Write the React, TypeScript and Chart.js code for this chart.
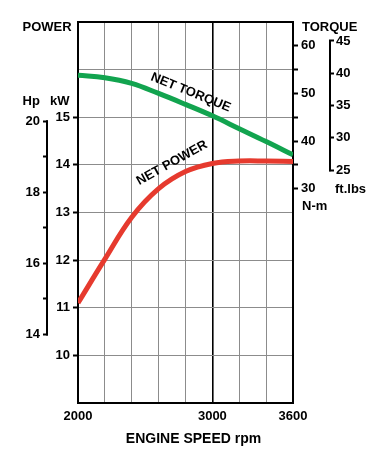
import { useEffect, useRef } from 'react';
import { Chart, registerables } from 'chart.js';

Chart.register(...registerables);

// ---- data ----
const rpm = [2000, 2200, 2400, 2600, 2800, 3000, 3200, 3400, 3600];
const netPowerKw = [11.1, 12.02, 12.9, 13.5, 13.86, 14.03, 14.08, 14.08, 14.07];
const netTorqueNm = [53.8, 53.3, 52.1, 50.0, 47.7, 45.3, 42.6, 39.9, 37.1];

const xTickLabels = [2000, 3000, 3600];
const kwGrid = [9, 10, 11, 12, 13, 14, 15, 16, 17];
const kwLabels = [10, 11, 12, 13, 14, 15];
const nmTicks = [30, 35, 40, 45, 50, 55, 60];
const nmLabels = [30, 40, 50, 60];
const hpTicks = [14, 15, 16, 17, 18, 19, 20];
const hpLabels = [14, 16, 18, 20];
const ftlbTicks = [25, 30, 35, 40, 45];

const KW_MIN = 9;
const KW_MAX = 17;
const KW_PER_HP = 0.7457;
const NM_PER_FTLB = 1.35582;
// torque axis aligned so that N-m = 10 * kW - 105
const NM_MIN = 10 * KW_MIN - 105;
const NM_MAX = 10 * KW_MAX - 105;

const torqueLabel = { text: 'NET TORQUE', rpm: 2839, kw: 15.52, angle: 22 };
const powerLabel = { text: 'NET POWER', rpm: 2699, kw: 14.04, angle: -29 };

const FONT = "'Liberation Sans', Arial, Helvetica, sans-serif";
const GRID_GREY = '#8c8c8c';
const RED = '#e63a2e';
const GREEN = '#12a44f';

const tickFont = { family: FONT, size: 13, weight: 'bold' as const };

const setTicks = (vals: number[]) => (axis: any) => {
  axis.ticks = vals.map((v) => ({ value: v }));
};
const fixWidth = (w: number) => (axis: any) => {
  axis.width = w;
  axis.paddingTop = 0;
  axis.paddingBottom = 0;
};

const overlayPlugin = {
  id: 'overlay',
  afterDraw(chart: any) {
    const { ctx, scales } = chart;
    const x = scales.x;
    const kw = scales.kw;
    const hp = scales.hp;
    const ft = scales.ft;
    ctx.save();
    ctx.strokeStyle = '#000';
    ctx.lineWidth = 2;
    ctx.lineCap = 'square';
    // Hp bracket
    const hx = hp.right - 1;
    ctx.beginPath();
    ctx.moveTo(hx, hp.getPixelForValue(hpTicks[hpTicks.length - 1]));
    ctx.lineTo(hx, hp.getPixelForValue(hpTicks[0]));
    ctx.stroke();
    // ft.lbs bracket
    const fx = ft.left + 1;
    ctx.beginPath();
    ctx.moveTo(fx, ft.getPixelForValue(ftlbTicks[ftlbTicks.length - 1]));
    ctx.lineTo(fx, ft.getPixelForValue(ftlbTicks[0]));
    ctx.stroke();

    ctx.fillStyle = '#000';
    ctx.textBaseline = 'alphabetic';
    ctx.textAlign = 'left';
    ctx.font = `bold 13px ${FONT}`;
    ctx.fillText('POWER', 22.5, 31);
    ctx.fillText('Hp', 22.5, 105);
    ctx.fillText('kW', 50, 105);
    ctx.fillText('TORQUE', 302, 31);
    ctx.fillText('ft.lbs', 335, 193);
    ctx.fillText('N-m', 302, 210);

    ctx.font = `bold 14px ${FONT}`;
    ctx.textAlign = 'center';
    ctx.fillText('ENGINE SPEED rpm', 193.5, 443);

    ctx.font = `bold 13px ${FONT}`;
    ctx.textBaseline = 'middle';
    for (const l of [torqueLabel, powerLabel]) {
      ctx.save();
      ctx.translate(x.getPixelForValue(l.rpm), kw.getPixelForValue(l.kw));
      ctx.rotate((l.angle * Math.PI) / 180);
      ctx.fillText(l.text, 0, 0);
      ctx.restore();
    }
    ctx.restore();
  },
};

export default function App() {
  const ref = useRef<HTMLCanvasElement | null>(null);

  useEffect(() => {
    if (!ref.current) return;
    const chart = new Chart(ref.current, {
      type: 'line',
      data: {
        datasets: [
          {
            label: 'NET TORQUE',
            data: rpm.map((r, i) => ({ x: r, y: netTorqueNm[i] })),
            yAxisID: 'nm',
            borderColor: GREEN,
            borderWidth: 5,
            pointRadius: 0,
            tension: 0.4,
            fill: false,
          },
          {
            label: 'NET POWER',
            data: rpm.map((r, i) => ({ x: r, y: netPowerKw[i] })),
            yAxisID: 'kw',
            borderColor: RED,
            borderWidth: 5,
            pointRadius: 0,
            tension: 0.4,
            fill: false,
          },
        ],
      },
      options: {
        animation: false,
        responsive: false,
        devicePixelRatio: 1,
        layout: { padding: { top: 22, left: 0, right: 0, bottom: 0 } },
        plugins: { legend: { display: false }, tooltip: { enabled: false } },
        scales: {
          x: {
            type: 'linear',
            min: rpm[0],
            max: rpm[rpm.length - 1],
            afterBuildTicks: setTicks(rpm),
            ticks: {
              font: tickFont,
              color: '#000',
              padding: 6,
              autoSkip: false,
              maxRotation: 0,
              callback: (v: any) => (xTickLabels.includes(Number(v)) ? String(v) : ''),
            },
            grid: {
              drawTicks: false,
              color: (c: any) => {
                const v = c.tick?.value;
                return v === 3000 || v === rpm[0] || v === rpm[rpm.length - 1] ? '#000' : GRID_GREY;
              },
              lineWidth: (c: any) => (c.tick?.value === 3000 ? 1.6 : 1),
            },
            border: { display: true, color: '#000', width: 2 },
            afterFit: (axis: any) => {
              axis.height = 67;
              axis.paddingLeft = 0;
              axis.paddingRight = 0;
            },
          },
          kw: {
            type: 'linear',
            position: 'left',
            weight: 0,
            min: KW_MIN,
            max: KW_MAX,
            afterBuildTicks: setTicks(kwGrid),
            afterFit: fixWidth(30),
            ticks: {
              font: tickFont,
              color: '#000',
              padding: 3,
              autoSkip: false,
              callback: (v: any) => (kwLabels.includes(Number(v)) ? String(v) : ''),
            },
            grid: {
              tickLength: 5,
              color: (c: any) => {
                const v = c.tick?.value;
                return v === KW_MIN || v === KW_MAX ? '#000' : GRID_GREY;
              },
              lineWidth: (c: any) => {
                const v = c.tick?.value;
                return v === KW_MIN || v === KW_MAX ? 2 : 1;
              },
              tickColor: (c: any) => (kwLabels.includes(c.tick?.value) ? '#000' : 'rgba(0,0,0,0)'),
              tickWidth: 2,
            },
            border: { display: true, color: '#000', width: 2 },
          },
          hp: {
            type: 'linear',
            position: 'left',
            weight: 1,
            min: KW_MIN / KW_PER_HP,
            max: KW_MAX / KW_PER_HP,
            afterBuildTicks: setTicks(hpTicks),
            afterFit: fixWidth(48),
            ticks: {
              font: tickFont,
              color: '#000',
              padding: 3,
              autoSkip: false,
              callback: (v: any) => (hpLabels.includes(Number(v)) ? String(v) : ''),
            },
            grid: { drawOnChartArea: false, tickLength: 5, tickColor: '#000', tickWidth: 2 },
            border: { display: false },
          },
          nm: {
            type: 'linear',
            position: 'right',
            weight: 0,
            min: NM_MIN,
            max: NM_MAX,
            afterBuildTicks: setTicks(nmTicks),
            afterFit: fixWidth(36),
            ticks: {
              font: tickFont,
              color: '#000',
              padding: 3,
              autoSkip: false,
              callback: (v: any) => (nmLabels.includes(Number(v)) ? String(v) : ''),
            },
            grid: { drawOnChartArea: false, tickLength: 5, tickColor: '#000', tickWidth: 2 },
            border: { display: true, color: '#000', width: 2 },
          },
          ft: {
            type: 'linear',
            position: 'right',
            weight: 1,
            min: NM_MIN / NM_PER_FTLB,
            max: NM_MAX / NM_PER_FTLB,
            afterBuildTicks: setTicks(ftlbTicks),
            afterFit: fixWidth(51),
            ticks: {
              font: tickFont,
              color: '#000',
              padding: 2,
              autoSkip: false,
              callback: (v: any) => String(v),
            },
            grid: { drawOnChartArea: false, tickLength: 5, tickColor: '#000', tickWidth: 2 },
            border: { display: false },
          },
        },
      } as any,
      plugins: [overlayPlugin],
    });
    return () => chart.destroy();
  }, []);

  return (
    <canvas
      ref={ref}
      width={380}
      height={470}
      style={{ position: 'fixed', left: 0, top: 0, width: 380, height: 470 }}
    />
  );
}
